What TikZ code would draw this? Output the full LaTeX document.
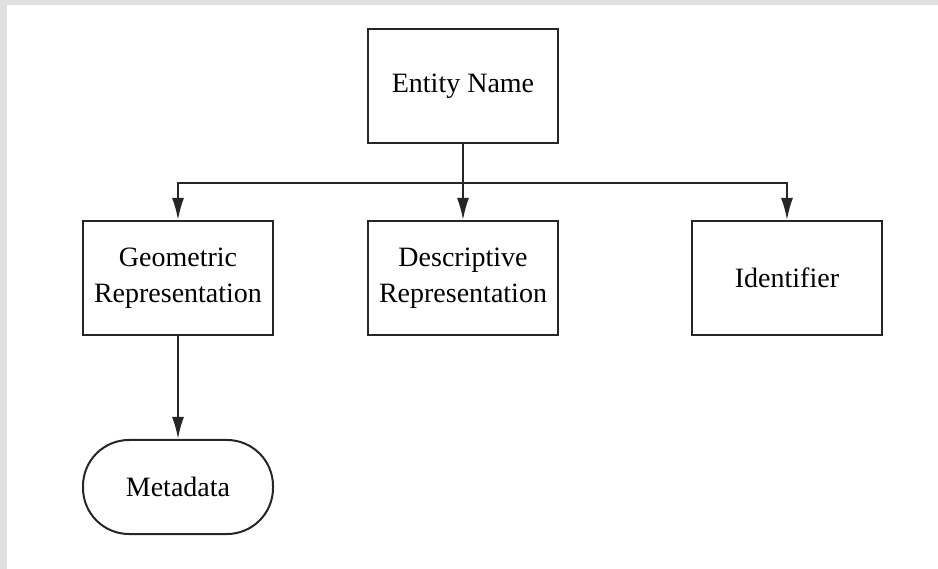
\documentclass[tikz,border=0pt]{standalone}
\usepackage{fontspec}
\setmainfont{Liberation Serif}
\usetikzlibrary{arrows.meta}
\begin{document}
\begin{tikzpicture}[x=1pt,y=-1pt,
  box/.style={draw=black!85,line width=2pt,minimum width=190pt,minimum height=114pt,inner sep=0pt,align=center,font=\fontsize{28}{36}\selectfont},
  term/.style={box,minimum height=94pt,rounded corners=46pt},
  arr/.style={draw=black!85,line width=2pt,-{Latex[length=22pt,width=12pt]}},
  ln/.style={draw=black!85,line width=2pt}]
\useasboundingbox (0,0) rectangle (938,569);
\fill[black!12] (0,0) rectangle (7,569);
\fill[black!12] (0,0) rectangle (938,5);
\node[box] (ent) at (463,86) {Entity Name};
\node[box] (geo) at (178,278) {Geometric\\Representation};
\node[box] (desc) at (463,278) {Descriptive\\Representation};
\node[box] (ident) at (787,278) {Identifier};
\node[term] (meta) at (178,487) {Metadata};
\coordinate (j) at (463,183);
\draw[ln] (ent.south) -- (j);
\draw[arr] (j) -| (geo.north);
\draw[arr] (j) -- (desc.north);
\draw[arr] (j) -| (ident.north);
\draw[arr] (geo.south) -- (meta.north);
\end{tikzpicture}
\end{document}
